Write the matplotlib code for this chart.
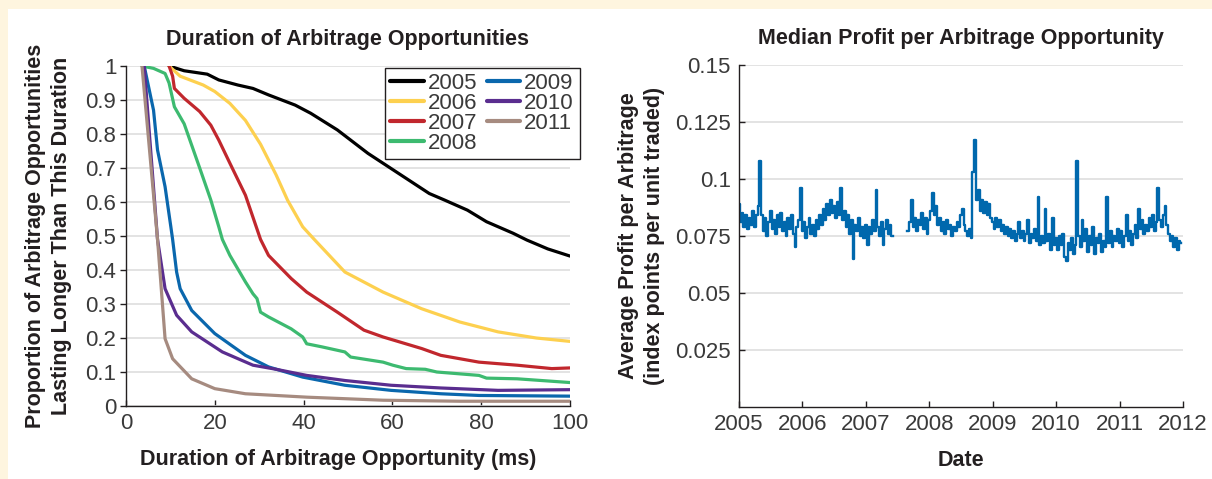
import matplotlib
matplotlib.use('Agg')
import matplotlib.pyplot as plt
import numpy as np
from matplotlib.patches import Rectangle

plt.rcParams['font.family'] = ['Liberation Sans Narrow', 'Liberation Sans', 'DejaVu Sans']

# --- left panel: survival curves of arbitrage durations ---
years = ['2005', '2006', '2007', '2008', '2009', '2010', '2011']
colors = ['#000000', '#fdd04f', '#c1272d', '#3dba70', '#0a67ad', '#5a2d8f', '#a68b80']

dur_x = {
    '2005': [9.7, 13.1, 18.3, 20.9, 25.2, 28.6, 32.1, 38.1, 41.6, 47.6, 54.5, 61.4, 68.3, 71.7, 76.9, 81.2, 87.2, 90.3, 95.0, 100],
    '2006': [9.7, 12.2, 17.4, 20.0, 23.4, 26.9, 30.3, 33.8, 36.4, 39.8, 42.4, 49.3, 57.9, 66.6, 75.2, 83.8, 92.4, 100],
    '2007': [9.7, 10.5, 10.9, 13.1, 16.6, 19.1, 20.9, 23.4, 26.9, 30.3, 32.1, 37.2, 40.7, 47.6, 53.6, 57.9, 66.6, 70.9, 79.5, 88.1, 95.9, 100],
    '2008': [3.6, 6.2, 8.8, 9.7, 10.9, 13.1, 16.6, 19.1, 20.9, 21.7, 23.4, 26.9, 28.6, 29.5, 30.3, 32.1, 37.2, 39.8, 40.7, 44.1, 49.3, 50.6, 57.9, 60.1, 63.1, 67.4, 70.0, 79.5, 81.2, 88.1, 100],
    '2009': [4.1, 6.2, 7.1, 8.8, 10.1, 10.5, 11.4, 12.2, 14.8, 20.0, 26.9, 32.1, 39.8, 49.3, 59.7, 70.9, 79.5, 100],
    '2010': [4.1, 7.1, 8.8, 11.4, 14.8, 21.7, 28.6, 33.8, 40.7, 49.3, 59.7, 70.9, 83.8, 100],
    '2011': [3.6, 7.1, 8.8, 10.5, 14.8, 20.0, 26.9, 40.7, 57.9, 75.2, 100],
}
dur_y = {
    '2005': [1.0, 0.986, 0.976, 0.959, 0.944, 0.934, 0.915, 0.885, 0.861, 0.812, 0.743, 0.684, 0.625, 0.606, 0.576, 0.542, 0.508, 0.488, 0.462, 0.441],
    '2006': [1.0, 0.97, 0.944, 0.925, 0.89, 0.84, 0.77, 0.68, 0.605, 0.527, 0.49, 0.394, 0.335, 0.286, 0.247, 0.218, 0.2, 0.19],
    '2007': [1.0, 0.97, 0.934, 0.905, 0.866, 0.826, 0.782, 0.714, 0.62, 0.49, 0.443, 0.375, 0.335, 0.276, 0.223, 0.203, 0.169, 0.149, 0.129, 0.12, 0.11, 0.112],
    '2008': [1.0, 0.993, 0.978, 0.95, 0.88, 0.83, 0.70, 0.606, 0.527, 0.49, 0.443, 0.365, 0.33, 0.316, 0.276, 0.262, 0.227, 0.203, 0.183, 0.174, 0.159, 0.144, 0.129, 0.12, 0.11, 0.108, 0.1, 0.09, 0.082, 0.08, 0.069],
    '2009': [1.0, 0.87, 0.753, 0.645, 0.527, 0.49, 0.394, 0.345, 0.281, 0.213, 0.149, 0.115, 0.085, 0.061, 0.046, 0.036, 0.031, 0.029],
    '2010': [1.0, 0.49, 0.345, 0.267, 0.218, 0.159, 0.12, 0.108, 0.09, 0.075, 0.061, 0.053, 0.046, 0.048],
    '2011': [1.0, 0.49, 0.198, 0.139, 0.08, 0.051, 0.036, 0.026, 0.017, 0.014, 0.014],
}

# --- right panel: median profit, ~10-day samples from 2005 to 2012 ---
nan = np.nan
profit = [
    # 2005
    0.089, 0.081, 0.085, 0.079, 0.084, 0.078, 0.083, 0.080, 0.086, 0.079, 0.084, 0.088,
    0.108, 0.084, 0.077, 0.083, 0.075, 0.081, 0.086, 0.078, 0.082, 0.076, 0.084, 0.079,
    0.085, 0.077, 0.081, 0.075, 0.083, 0.078, 0.084, 0.076, 0.070, 0.079, 0.082, 0.096,
    # 2006
    0.077, 0.081, 0.074, 0.079, 0.083, 0.076, 0.080, 0.075, 0.082, 0.078, 0.084, 0.080,
    0.087, 0.082, 0.089, 0.084, 0.091, 0.085, 0.088, 0.083, 0.090, 0.084, 0.096, 0.082,
    0.086, 0.079, 0.084, 0.076, 0.082, 0.065, 0.080, 0.077, 0.083, 0.075, 0.079, 0.074,
    # 2007
    0.080, 0.071, 0.079, 0.076, 0.082, 0.077, 0.095, 0.079, 0.075, 0.081, 0.071, 0.078,
    0.082, 0.076, 0.080, 0.075, nan, nan, nan, nan, nan, nan, nan, nan,
    0.077, 0.081, 0.091, 0.079, 0.083, 0.077, 0.082, 0.080, 0.085, 0.078, 0.083, 0.076,
    # 2008
    0.082, 0.086, 0.094, 0.084, 0.088, 0.080, 0.083, 0.077, 0.081, 0.076, 0.082, 0.078,
    0.080, 0.075, 0.079, 0.077, 0.081, 0.079, 0.084, 0.087, 0.080, 0.077, 0.075, 0.078,
    0.074, 0.103, 0.117, 0.091, 0.095, 0.086, 0.091, 0.085, 0.090, 0.084, 0.089, 0.083,
    # 2009
    0.081, 0.078, 0.083, 0.079, 0.082, 0.077, 0.080, 0.076, 0.079, 0.075, 0.078, 0.074,
    0.077, 0.073, 0.076, 0.081, 0.074, 0.077, 0.073, 0.076, 0.082, 0.072, 0.076, 0.074,
    0.078, 0.073, 0.092, 0.071, 0.075, 0.072, 0.087, 0.073, 0.076, 0.069, 0.083, 0.071,
    # 2010
    0.074, 0.069, 0.075, 0.071, 0.076, 0.066, 0.064, 0.072, 0.069, 0.074, 0.067, 0.071,
    0.108, 0.075, 0.070, 0.082, 0.073, 0.078, 0.068, 0.075, 0.071, 0.079, 0.067, 0.074,
    0.072, 0.076, 0.068, 0.073, 0.070, 0.092, 0.072, 0.077, 0.070, 0.075, 0.073, 0.078,
    # 2011
    0.072, 0.077, 0.070, 0.075, 0.084, 0.073, 0.077, 0.071, 0.076, 0.080, 0.074, 0.087,
    0.078, 0.082, 0.076, 0.080, 0.077, 0.083, 0.079, 0.084, 0.077, 0.081, 0.096, 0.082,
    0.079, 0.084, 0.088, 0.080, 0.076, 0.073, 0.075, 0.070, 0.074, 0.069, 0.073, 0.072,
]
profit_dates = 2005 + np.arange(len(profit)) / 36.0
date_ticks = [2005, 2006, 2007, 2008, 2009, 2010, 2011, 2012]
profit_ticks = [0.025, 0.05, 0.075, 0.1, 0.125, 0.15]

text_col = '#231f20'
tick_col = '#3a3a3a'
grid_col = '#dedede'

fig = plt.figure(figsize=(12.12, 4.79), dpi=100, facecolor='#fef5df')
# white panel behind the two charts
fig.add_artist(Rectangle((8 / 1212, 0), 1, 470 / 479, transform=fig.transFigure,
                         facecolor='white', edgecolor='none', zorder=-10))

ax1 = fig.add_axes([126 / 1212, 73 / 479, 444 / 1212, 340 / 479])
ax2 = fig.add_axes([739 / 1212, 72 / 479, 444 / 1212, 342 / 479])

for ax in (ax1, ax2):
    ax.set_facecolor('none')
    for s in ('top', 'right'):
        ax.spines[s].set_visible(False)
    for s in ('left', 'bottom'):
        ax.spines[s].set_color(text_col)
        ax.spines[s].set_linewidth(1.0)
    ax.tick_params(axis='both', labelsize=16, colors=text_col, labelcolor=tick_col, length=4, width=1)
    ax.tick_params(axis='x', direction='in', pad=5)
    ax.yaxis.grid(True, color=grid_col, lw=1.2)
    ax.set_axisbelow(True)

lab_size = 15.5

# left chart
for yr, c in zip(years, colors):
    ax1.plot(dur_x[yr], dur_y[yr], color=c, lw=2.3, label=yr, solid_capstyle='round',
             solid_joinstyle='round')
ax1.set_xlim(0, 100)
ax1.set_ylim(0, 1)
ax1.set_xticks([0, 20, 40, 60, 80, 100])
ax1.set_yticks([0, 0.1, 0.2, 0.3, 0.4, 0.5, 0.6, 0.7, 0.8, 0.9, 1])
ax1.set_yticklabels(['0', '0.1', '0.2', '0.3', '0.4', '0.5', '0.6', '0.7', '0.8', '0.9', '1'])
ax1.tick_params(axis='y', direction='out', pad=3)
ax1.set_title('Duration of Arbitrage Opportunities', fontsize=lab_size, fontweight='bold',
              color=text_col, pad=15)
ax1.set_xlabel('Duration of Arbitrage Opportunity (ms)', fontsize=lab_size, fontweight='bold', color=text_col)
ax1.xaxis.set_label_coords(0.477, -0.125)
ax1.set_ylabel('Proportion of Arbitrage Opportunities\nLasting Longer Than This Duration',
               fontsize=lab_size, fontweight='bold', color=text_col, linespacing=1.3)
ax1.yaxis.set_label_coords(-0.122, 0.5)
leg = ax1.legend(ncol=2, loc='upper left', bbox_to_anchor=(0.583, 0.995), fontsize=16,
                 frameon=True, fancybox=False, edgecolor=text_col, framealpha=1,
                 labelspacing=-0.05, handlelength=1.5, handletextpad=0.2,
                 columnspacing=0.4, borderpad=0.25, borderaxespad=0)
leg.get_frame().set_linewidth(1.0)
for t in leg.get_texts():
    t.set_color(tick_col)
for h in leg.get_lines():
    h.set_linewidth(3)

# right chart
ax2.plot(profit_dates, profit, color='#0068ad', lw=1.7, drawstyle='steps-mid')
ax2.set_xlim(2005, 2012)
ax2.set_ylim(0, 0.15)
ax2.set_xticks(date_ticks)
ax2.set_yticks(profit_ticks)
ax2.set_yticklabels(['0.025', '0.05', '0.075', '0.1', '0.125', '0.15'])
ax2.tick_params(axis='y', direction='in', pad=6)
ax2.set_title('Median Profit per Arbitrage Opportunity', fontsize=lab_size, fontweight='bold',
              color=text_col, pad=15)
ax2.set_xlabel('Date', fontsize=lab_size, fontweight='bold', color=text_col)
ax2.xaxis.set_label_coords(0.5, -0.126)
ax2.set_ylabel('Average Profit per Arbitrage\n(index points per unit traded)',
               fontsize=lab_size, fontweight='bold', color=text_col, linespacing=1.3)
ax2.yaxis.set_label_coords(-0.167, 0.5)

fig.savefig('out.png', dpi=100, facecolor=fig.get_facecolor())
